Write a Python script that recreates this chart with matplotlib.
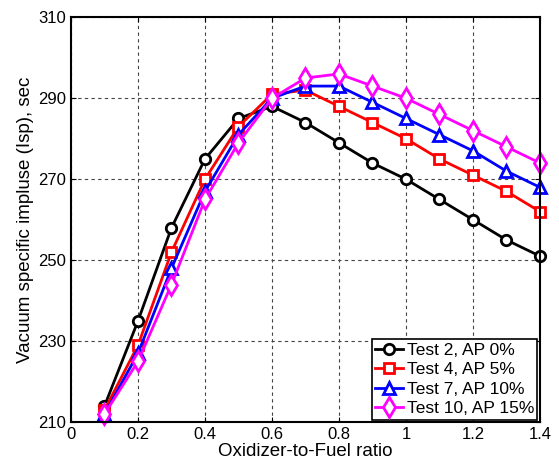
import matplotlib
matplotlib.use("Agg")
import matplotlib.pyplot as plt

plt.rcParams["font.family"] = ["Liberation Sans", "DejaVu Sans"]

ratio = [0.1, 0.2, 0.3, 0.4, 0.5, 0.6, 0.7, 0.8, 0.9, 1.0, 1.1, 1.2, 1.3, 1.4]
test2 = [214, 235, 258, 275, 285, 288, 284, 279, 274, 270, 265, 260, 255, 251]
test4 = [213, 229, 252, 270, 283, 291, 292, 288, 284, 280, 275, 271, 267, 262]
test7 = [212, 227, 248, 267, 281, 290, 293, 293, 289, 285, 281, 277, 272, 268]
test10 = [212, 225, 244, 265, 279, 290, 295, 296, 293, 290, 286, 282, 278, 274]
labels = ['Test 2, AP 0%', 'Test 4, AP 5%', 'Test 7, AP 10%', 'Test 10, AP 15%']

fig, ax = plt.subplots(figsize=(5.59, 4.66), dpi=100)
fig.subplots_adjust(left=0.127, right=0.966, top=0.963, bottom=0.094)

ms = dict(markerfacecolor='white', markeredgewidth=2, linewidth=2, clip_on=False)
ax.plot(ratio, test2, '-o', color='black', label=labels[0], markersize=7.5, **ms)
ax.plot(ratio, test4, '-s', color='red', label=labels[1], markersize=7, **ms)
ax.plot(ratio, test7, '-^', color='blue', label=labels[2], markersize=9, **ms)
ax.plot(ratio, test10, '-d', color='magenta', label=labels[3], markersize=10, **ms)

ax.set_xlim(0, 1.4)
ax.set_ylim(210, 310)
ax.set_xticks([0, 0.2, 0.4, 0.6, 0.8, 1, 1.2, 1.4])
ax.set_xticklabels(['0', '0.2', '0.4', '0.6', '0.8', '1', '1.2', '1.4'])
ax.set_yticks([210, 230, 250, 270, 290, 310])
ax.grid(True, linestyle=(0, (3, 3)), color='#444444', linewidth=0.8)
ax.tick_params(direction='in', top=True, right=True, labelsize=12)
for s in ax.spines.values():
    s.set_linewidth(1.5)
ax.set_xlabel("Oxidizer-to-Fuel ratio", fontsize=13.5, labelpad=1)
ax.set_ylabel("Vacuum specific impluse (Isp), sec", fontsize=13.5, labelpad=3)

leg = ax.legend(loc='lower right', fontsize=12.5, fancybox=False, framealpha=1,
                edgecolor='black', handlelength=1.6, handletextpad=0.2,
                borderpad=0.2, labelspacing=0.25, borderaxespad=0.15)
leg.get_frame().set_linewidth(1.2)

fig.savefig("out.png", dpi=100)
